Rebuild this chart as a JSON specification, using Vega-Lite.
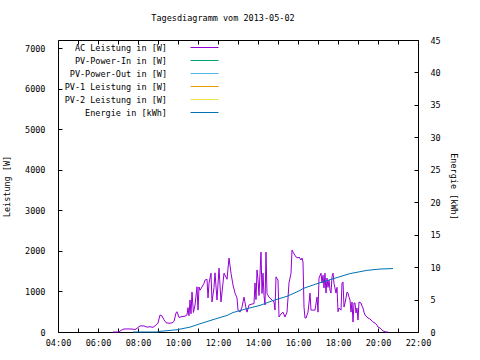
{
  "$schema": "https://vega.github.io/schema/vega-lite/v6.json",
  "width": 360,
  "height": 292,
  "autosize": {"type": "none"},
  "padding": {"left": 58, "top": 40, "right": 62, "bottom": 28},
  "background": "white",
  "title": {"text": "Tagesdiagramm vom 2013-05-02", "font": "DejaVu Sans Mono", "fontSize": 8.5, "fontWeight": "normal", "color": "black", "anchor": "middle", "dx": -15, "offset": 14},
  "config": {
    "view": {"stroke": "black", "strokeWidth": 1},
    "axis": {"labelFont": "DejaVu Sans Mono", "labelFontSize": 8.5, "labelColor": "black", "titleFont": "DejaVu Sans Mono", "titleFontSize": 8.5, "titleFontWeight": "normal", "titleColor": "black", "domain": false, "tickColor": "black", "tickSize": 4, "offset": -4, "grid": false},
    "legend": {"labelFont": "DejaVu Sans Mono", "labelFontSize": 8.5, "labelColor": "black"}
  },
  "datasets": {
    "ac": [
      {"stunde": 6.75, "wert": 0}, {"stunde": 7.05, "wert": 0}, {"stunde": 7.15, "wert": 40}, {"stunde": 7.3, "wert": 75},
      {"stunde": 7.6, "wert": 75}, {"stunde": 7.75, "wert": 70}, {"stunde": 7.85, "wert": 60}, {"stunde": 7.95, "wert": 90},
      {"stunde": 8.1, "wert": 150}, {"stunde": 8.3, "wert": 150}, {"stunde": 8.45, "wert": 120}, {"stunde": 8.6, "wert": 130},
      {"stunde": 8.75, "wert": 115}, {"stunde": 8.9, "wert": 170}, {"stunde": 9.0, "wert": 220}, {"stunde": 9.1, "wert": 420},
      {"stunde": 9.2, "wert": 395}, {"stunde": 9.3, "wert": 300}, {"stunde": 9.4, "wert": 230}, {"stunde": 9.55, "wert": 215},
      {"stunde": 9.7, "wert": 225}, {"stunde": 9.8, "wert": 260}, {"stunde": 9.9, "wert": 470}, {"stunde": 9.95, "wert": 500},
      {"stunde": 10.05, "wert": 360}, {"stunde": 10.2, "wert": 380}, {"stunde": 10.35, "wert": 390}, {"stunde": 10.45, "wert": 420},
      {"stunde": 10.5, "wert": 600}, {"stunde": 10.55, "wert": 400}, {"stunde": 10.6, "wert": 790}, {"stunde": 10.65, "wert": 450},
      {"stunde": 10.7, "wert": 985}, {"stunde": 10.77, "wert": 480}, {"stunde": 10.85, "wert": 665}, {"stunde": 10.95, "wert": 1115},
      {"stunde": 11.0, "wert": 540}, {"stunde": 11.05, "wert": 1110}, {"stunde": 11.1, "wert": 1030}, {"stunde": 11.2, "wert": 1110},
      {"stunde": 11.3, "wert": 1200}, {"stunde": 11.35, "wert": 1280}, {"stunde": 11.45, "wert": 1300}, {"stunde": 11.5, "wert": 840},
      {"stunde": 11.55, "wert": 1200}, {"stunde": 11.65, "wert": 1450}, {"stunde": 11.7, "wert": 740}, {"stunde": 11.8, "wert": 1100},
      {"stunde": 11.85, "wert": 1460}, {"stunde": 11.95, "wert": 790}, {"stunde": 12.05, "wert": 1575}, {"stunde": 12.15, "wert": 740},
      {"stunde": 12.3, "wert": 1450}, {"stunde": 12.45, "wert": 1300}, {"stunde": 12.55, "wert": 1825}, {"stunde": 12.65, "wert": 1450},
      {"stunde": 12.75, "wert": 1160}, {"stunde": 12.85, "wert": 960}, {"stunde": 12.95, "wert": 840}, {"stunde": 13.0, "wert": 540},
      {"stunde": 13.1, "wert": 490}, {"stunde": 13.2, "wert": 615}, {"stunde": 13.25, "wert": 740}, {"stunde": 13.3, "wert": 860},
      {"stunde": 13.4, "wert": 590}, {"stunde": 13.45, "wert": 490}, {"stunde": 13.55, "wert": 665}, {"stunde": 13.7, "wert": 690},
      {"stunde": 13.8, "wert": 700}, {"stunde": 13.85, "wert": 1210}, {"stunde": 13.9, "wert": 800}, {"stunde": 13.95, "wert": 1530},
      {"stunde": 14.0, "wert": 1300}, {"stunde": 14.05, "wert": 900}, {"stunde": 14.15, "wert": 1970}, {"stunde": 14.2, "wert": 950},
      {"stunde": 14.25, "wert": 1450}, {"stunde": 14.3, "wert": 900}, {"stunde": 14.35, "wert": 665}, {"stunde": 14.4, "wert": 1970},
      {"stunde": 14.45, "wert": 950}, {"stunde": 14.55, "wert": 860}, {"stunde": 14.7, "wert": 790}, {"stunde": 14.8, "wert": 740},
      {"stunde": 14.85, "wert": 540}, {"stunde": 14.9, "wert": 1360}, {"stunde": 15.0, "wert": 1280}, {"stunde": 15.05, "wert": 370},
      {"stunde": 15.15, "wert": 445}, {"stunde": 15.25, "wert": 490}, {"stunde": 15.35, "wert": 370}, {"stunde": 15.45, "wert": 490},
      {"stunde": 15.5, "wert": 840}, {"stunde": 15.55, "wert": 1210}, {"stunde": 15.65, "wert": 1450}, {"stunde": 15.7, "wert": 2020},
      {"stunde": 15.75, "wert": 1970}, {"stunde": 15.9, "wert": 1850}, {"stunde": 16.0, "wert": 1825}, {"stunde": 16.05, "wert": 1850},
      {"stunde": 16.15, "wert": 1775}, {"stunde": 16.2, "wert": 1825}, {"stunde": 16.25, "wert": 1725}, {"stunde": 16.3, "wert": 615},
      {"stunde": 16.35, "wert": 345}, {"stunde": 16.4, "wert": 345}, {"stunde": 16.45, "wert": 420}, {"stunde": 16.5, "wert": 490},
      {"stunde": 16.55, "wert": 715}, {"stunde": 16.6, "wert": 960}, {"stunde": 16.65, "wert": 540}, {"stunde": 16.85, "wert": 540},
      {"stunde": 16.95, "wert": 860}, {"stunde": 17.0, "wert": 490}, {"stunde": 17.05, "wert": 1330}, {"stunde": 17.15, "wert": 1450},
      {"stunde": 17.2, "wert": 1210}, {"stunde": 17.25, "wert": 1400}, {"stunde": 17.3, "wert": 1085}, {"stunde": 17.35, "wert": 1450},
      {"stunde": 17.4, "wert": 960}, {"stunde": 17.45, "wert": 1330}, {"stunde": 17.5, "wert": 1100}, {"stunde": 17.55, "wert": 1280},
      {"stunde": 17.6, "wert": 1035}, {"stunde": 17.65, "wert": 960}, {"stunde": 17.7, "wert": 1360}, {"stunde": 17.75, "wert": 1450},
      {"stunde": 17.8, "wert": 1200}, {"stunde": 17.9, "wert": 960}, {"stunde": 17.95, "wert": 1100}, {"stunde": 18.0, "wert": 500},
      {"stunde": 18.05, "wert": 590}, {"stunde": 18.15, "wert": 540}, {"stunde": 18.2, "wert": 1210}, {"stunde": 18.25, "wert": 1235},
      {"stunde": 18.3, "wert": 615}, {"stunde": 18.35, "wert": 715}, {"stunde": 18.4, "wert": 840}, {"stunde": 18.45, "wert": 985},
      {"stunde": 18.5, "wert": 960}, {"stunde": 18.55, "wert": 860}, {"stunde": 18.6, "wert": 790}, {"stunde": 18.65, "wert": 490},
      {"stunde": 18.7, "wert": 740}, {"stunde": 18.75, "wert": 245}, {"stunde": 18.8, "wert": 715}, {"stunde": 18.85, "wert": 715},
      {"stunde": 18.9, "wert": 470}, {"stunde": 18.95, "wert": 590}, {"stunde": 19.0, "wert": 295}, {"stunde": 19.05, "wert": 740},
      {"stunde": 19.15, "wert": 715}, {"stunde": 19.2, "wert": 640}, {"stunde": 19.25, "wert": 590}, {"stunde": 19.3, "wert": 490},
      {"stunde": 19.35, "wert": 420}, {"stunde": 19.45, "wert": 370}, {"stunde": 19.5, "wert": 345}, {"stunde": 19.6, "wert": 320},
      {"stunde": 19.7, "wert": 270}, {"stunde": 19.75, "wert": 245}, {"stunde": 19.85, "wert": 220}, {"stunde": 19.95, "wert": 170},
      {"stunde": 20.0, "wert": 120}, {"stunde": 20.1, "wert": 100}, {"stunde": 20.2, "wert": 50}, {"stunde": 20.25, "wert": 25},
      {"stunde": 20.4, "wert": 0}, {"stunde": 20.5, "wert": 0}
    ],
    "energie": [
      {"stunde": 7.75, "wert": 0}, {"stunde": 8.95, "wert": 0}, {"stunde": 9.1, "wert": 0.1}, {"stunde": 9.95, "wert": 0.35},
      {"stunde": 10.6, "wert": 0.75}, {"stunde": 11.1, "wert": 1.27}, {"stunde": 11.75, "wert": 1.9}, {"stunde": 12.45, "wert": 2.55},
      {"stunde": 12.75, "wert": 3.0}, {"stunde": 13.45, "wert": 3.6}, {"stunde": 14.1, "wert": 4.1}, {"stunde": 14.75, "wert": 4.85},
      {"stunde": 15.45, "wert": 5.5}, {"stunde": 16.1, "wert": 6.4}, {"stunde": 16.25, "wert": 6.7}, {"stunde": 16.95, "wert": 7.45},
      {"stunde": 17.75, "wert": 8.2}, {"stunde": 18.6, "wert": 9.0}, {"stunde": 19.45, "wert": 9.5}, {"stunde": 20.1, "wert": 9.7},
      {"stunde": 20.75, "wert": 9.78}
    ]
  },
  "resolve": {"scale": {"y": "independent"}, "axis": {"x": "independent"}},
  "layer": [
    {
      "data": {"name": "ac"},
      "mark": {"type": "line", "strokeWidth": 1},
      "encoding": {
        "x": {"field": "stunde", "type": "quantitative",
          "scale": {"domain": [4, 22], "nice": false, "zero": false},
          "axis": {"orient": "bottom", "title": null, "labelPadding": 6, "labelFlush": false,
            "values": [4, 5, 6, 7, 8, 9, 10, 11, 12, 13, 14, 15, 16, 17, 18, 19, 20, 21, 22],
            "labelExpr": "datum.value % 2 == 0 ? (datum.value < 10 ? '0' : '') + datum.value + ':00' : ''"}},
        "y": {"field": "wert", "type": "quantitative",
          "scale": {"domain": [0, 7200], "nice": false},
          "axis": {"orient": "left", "title": "Leistung [W]", "labelPadding": 13, "format": "d", "values": [0, 1000, 2000, 3000, 4000, 5000, 6000, 7000], "titlePadding": 13}},
        "color": {"datum": "AC Leistung in [W]", "type": "nominal",
          "scale": {"domain": ["AC Leistung in [W]", "PV-Power-In in [W]", "PV-Power-Out in [W]", "PV-1 Leistung in [W]", "PV-2 Leistung in [W]", "Energie in [kWh]"],
                    "range": ["#9400d3", "#009e73", "#56b4e9", "#e69f00", "#f0e442", "#0072b2"]},
          "legend": {"title": null, "orient": "top-left", "offset": 1, "padding": 0, "symbolType": "stroke", "symbolSize": 784, "symbolStrokeWidth": 1, "clipHeight": 13, "rowPadding": 0, "symbolOffset": 131, "labelExpr": "''", "labelLimit": 5}},
        "opacity": {"datum": "AC Leistung in [W]", "type": "nominal",
          "scale": {"domain": ["AC Leistung in [W]", "PV-Power-In in [W]", "PV-Power-Out in [W]", "PV-1 Leistung in [W]", "PV-2 Leistung in [W]", "Energie in [kWh]"],
                    "range": [1, 1, 1, 1, 1, 1]},
          "legend": {"title": null, "orient": "none", "legendX": 0, "legendY": 1, "padding": 0, "symbolType": "stroke", "symbolSize": 784, "symbolStrokeWidth": 0, "symbolStrokeColor": "transparent", "clipHeight": 13, "rowPadding": 0, "labelAlign": "right", "labelOffset": 81, "symbolOffset": 0, "labelLimit": 300}}
      }
    },
    {
      "data": {"name": "energie"},
      "mark": {"type": "line", "strokeWidth": 1},
      "encoding": {
        "x": {"field": "stunde", "type": "quantitative",
          "axis": {"orient": "top", "title": null, "labels": false, "values": [4, 5, 6, 7, 8, 9, 10, 11, 12, 13, 14, 15, 16, 17, 18, 19, 20, 21, 22]}},
        "y": {"field": "wert", "type": "quantitative",
          "scale": {"domain": [0, 45], "nice": false},
          "axis": {"orient": "right", "title": "Energie [kWh]", "labelPadding": 12, "values": [0, 5, 10, 15, 20, 25, 30, 35, 40, 45], "titlePadding": 8}},
        "color": {"datum": "Energie in [kWh]", "type": "nominal"},
        "opacity": {"datum": "Energie in [kWh]", "type": "nominal"}
      }
    }
  ]
}
